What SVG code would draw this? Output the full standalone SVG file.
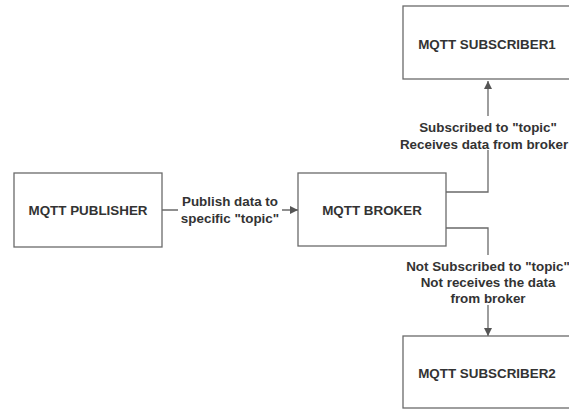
<svg xmlns="http://www.w3.org/2000/svg" width="569" height="409" viewBox="0 0 569 409">
<style>
.box{fill:#fff;stroke:#6a6a6a;stroke-width:1.3}
.t{font-family:"Liberation Sans",Arial,sans-serif;font-weight:bold;font-size:13.4px;fill:#333;text-anchor:middle}
.c{fill:none;stroke:#6a6a6a;stroke-width:1.3}
.lbl{fill:#fff;stroke:none}
</style>
<defs>
<marker id="ah" viewBox="0 0 10 10" refX="10" refY="5" markerWidth="8" markerHeight="8" markerUnits="userSpaceOnUse" orient="auto">
<path d="M0,0 L10,5 L0,10 z" fill="#555"/>
</marker>
</defs>
<rect width="569" height="409" fill="#fff"/>
<g id="connectors">
<path class="c" d="M162,210 H298" marker-end="url(#ah)"/>
<path class="c" d="M446,192 H488 V81" marker-end="url(#ah)"/>
<path class="c" d="M446,228 H488 V336" marker-end="url(#ah)"/>
<rect class="lbl" x="178" y="192" width="104" height="34"/>
<text class="t" x="230" y="206">Publish data to</text>
<text class="t" x="230" y="223">specific "topic"</text>
<rect class="lbl" x="400" y="116" width="169" height="34"/>
<text class="t" x="488" y="132">Subscribed to "topic"</text>
<text class="t" x="484" y="149" font-size="12.8px">Receives data from broker</text>
<rect class="lbl" x="400" y="255" width="169" height="50"/>
<text class="t" x="488" y="271">Not Subscribed to "topic"</text>
<text class="t" x="488" y="287">Not receives the data</text>
<text class="t" x="488" y="303">from broker</text>
</g>
<g id="publisher">
<rect class="box" x="14" y="173" width="148" height="74"/>
<text class="t" x="88" y="215">MQTT PUBLISHER</text>
</g>
<g id="broker">
<rect class="box" x="298" y="173" width="148" height="73"/>
<text class="t" x="372" y="215">MQTT BROKER</text>
</g>
<g id="subscriber1">
<rect class="box" x="403" y="6" width="180" height="73"/>
<text class="t" x="487" y="49">MQTT SUBSCRIBER1</text>
</g>
<g id="subscriber2">
<rect class="box" x="403" y="336" width="180" height="72"/>
<text class="t" x="487" y="378">MQTT SUBSCRIBER2</text>
</g>
</svg>
